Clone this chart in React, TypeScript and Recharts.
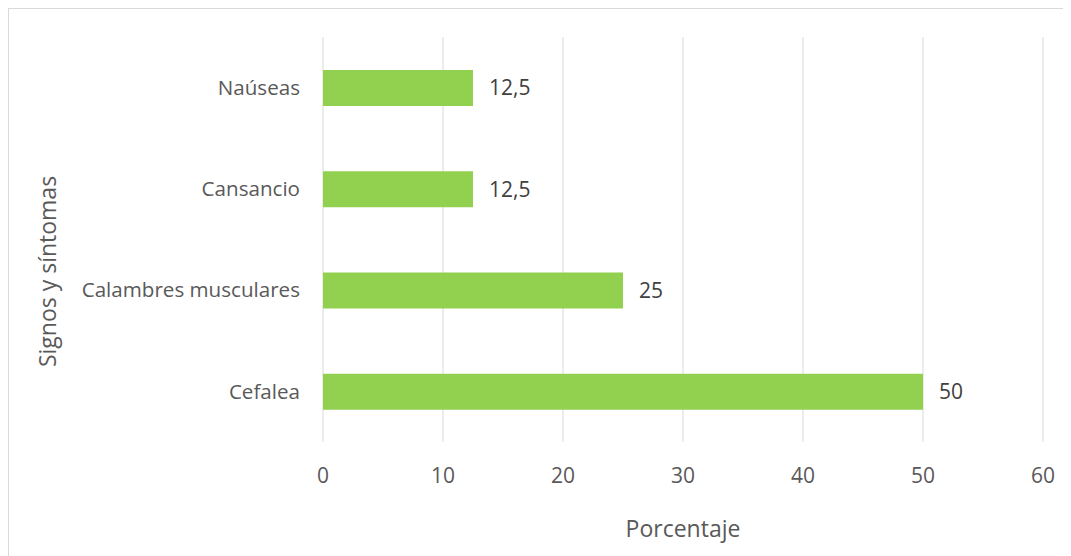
import React from "react";
import { BarChart, Bar, XAxis, YAxis, CartesianGrid, LabelList, Label } from "recharts";

const categories = ["Naúseas", "Cansancio", "Calambres musculares", "Cefalea"];
const values = [12.5, 12.5, 25, 50];
const xTicks = [0, 10, 20, 30, 40, 50, 60];

const data = categories.map((c, i) => ({ name: c, value: values[i] }));

const FONT = "'Open Sans', sans-serif";
const TXT = "#595959";

export default function App() {
  return (
    <div
      style={{
        width: 1054,
        height: 560,
        borderTop: "1px solid #d9d9d9",
        borderLeft: "1px solid #d9d9d9",
        borderRight: "1px solid #d9d9d9",
        boxSizing: "content-box",
        background: "#fff",
      }}
    >
      <BarChart
        width={1054}
        height={547}
        data={data}
        layout="vertical"
        margin={{ top: 28, right: 20, left: 0, bottom: 0 }}
        style={{ fontFamily: FONT }}
      >
        <CartesianGrid horizontal={false} stroke="#d9d9d9" strokeWidth={1} />
        <XAxis
          type="number"
          domain={[0, 60]}
          ticks={xTicks}
          axisLine={false}
          tickLine={false}
          tickSize={0}
          tickMargin={26}
          height={114}
          tick={{ fill: TXT, fontSize: 21, fontFamily: FONT }}
        >
          <Label
            value="Porcentaje"
            position="insideBottom"
            offset={19}
            fill={TXT}
            fontSize={23}
            fontFamily={FONT}
          />
        </XAxis>
        <YAxis
          type="category"
          dataKey="name"
          width={314}
          axisLine={false}
          tickLine={false}
          tickSize={0}
          tickMargin={23}
          tick={{ fill: TXT, fontSize: 20.6, fontFamily: FONT }}
        >
          <Label
            content={(props: any) => {
              const vb = props.viewBox || { x: 0, y: 0, height: 0 };
              const cx = vb.x + 38;
              const cy = vb.y + vb.height / 2 + 32;
              return (
                <text
                  x={cx}
                  y={cy}
                  transform={`rotate(-90 ${cx} ${cy})`}
                  textAnchor="middle"
                  dominantBaseline="central"
                  fill={TXT}
                  fontSize={23}
                  fontFamily={FONT}
                >
                  Signos y síntomas
                </text>
              );
            }}
          />
        </YAxis>
        <Bar dataKey="value" fill="#92d050" barSize={36} isAnimationActive={false}>
          <LabelList
            dataKey="value"
            position="right"
            offset={16}
            fill="#404040"
            fontSize={21}
            fontFamily={FONT}
            formatter={(v: any) => String(v).replace(".", ",")}
          />
        </Bar>
      </BarChart>
    </div>
  );
}
